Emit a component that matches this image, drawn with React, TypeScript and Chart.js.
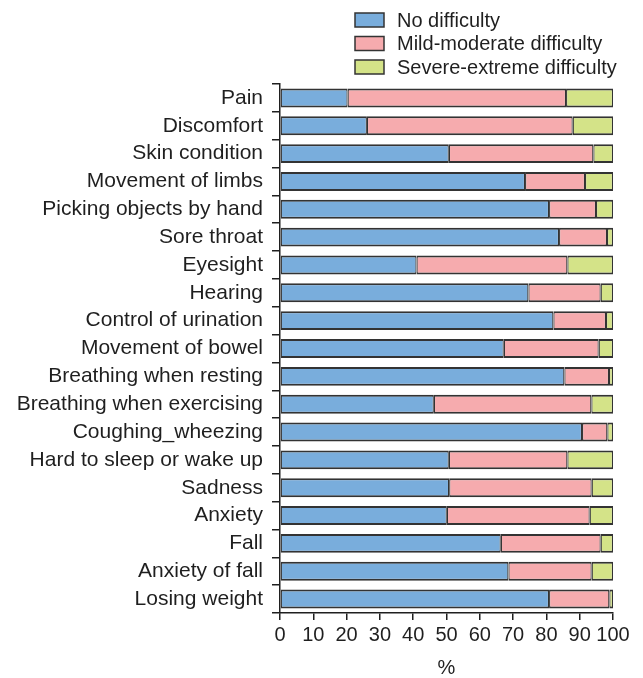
import React, { useEffect, useRef } from "react";
import { Chart, registerables } from "chart.js";

Chart.register(...registerables);

const categories = [
  "Pain",
  "Discomfort",
  "Skin condition",
  "Movement of limbs",
  "Picking objects by hand",
  "Sore throat",
  "Eyesight",
  "Hearing",
  "Control of urination",
  "Movement of bowel",
  "Breathing when resting",
  "Breathing when exercising",
  "Coughing_wheezing",
  "Hard to sleep or wake up",
  "Sadness",
  "Anxiety",
  "Fall",
  "Anxiety of fall",
  "Losing weight",
];

const noDifficulty = [20.3, 26.1, 50.7, 73.6, 80.8, 83.8, 41.0, 74.6, 82.1, 67.2, 85.4, 46.2, 90.7, 50.7, 50.8, 50.1, 66.3, 68.6, 80.8];
const mildModerate = [65.6, 61.8, 43.4, 18.0, 14.1, 14.4, 45.3, 21.7, 15.8, 28.5, 13.4, 47.3, 7.6, 35.6, 42.8, 42.9, 30.0, 25.0, 18.1];
const severeExtreme = [14.1, 12.1, 5.9, 8.4, 5.1, 1.8, 13.7, 3.7, 2.1, 4.3, 1.2, 6.5, 1.7, 13.7, 6.4, 7.0, 3.7, 6.4, 1.1];

const seriesNames = ["No difficulty", "Mild-moderate difficulty", "Severe-extreme difficulty"];
const seriesColors = ["#79ADDC", "#F6ABAE", "#D4E388"];
const xTicks = [0, 10, 20, 30, 40, 50, 60, 70, 80, 90, 100];

const FONT = "'Liberation Sans', Arial, sans-serif";
const INK = "#1f1f1f";
const EDGE = "#333333";

const legendPlugin = {
  id: "customLegend",
  afterDraw(chart: any) {
    const ctx = chart.ctx;
    ctx.save();
    const rowsY = [20, 43.5, 67];
    seriesNames.forEach((name, i) => {
      const cy = rowsY[i];
      ctx.fillStyle = seriesColors[i];
      ctx.fillRect(355, cy - 7, 29, 14);
      ctx.strokeStyle = EDGE;
      ctx.lineWidth = 1.5;
      ctx.strokeRect(355, cy - 7, 29, 14);
      ctx.fillStyle = INK;
      ctx.font = `20px ${FONT}`;
      ctx.textBaseline = "middle";
      ctx.textAlign = "left";
      ctx.fillText(name, 397, cy + 1);
    });
    ctx.restore();
  },
};

export default function App() {
  const ref = useRef<HTMLCanvasElement | null>(null);

  useEffect(() => {
    if (!ref.current) return;
    const values = [noDifficulty, mildModerate, severeExtreme];
    const chart = new Chart(ref.current, {
      type: "bar",
      data: {
        labels: categories,
        datasets: values.map((v, i) => ({
          label: seriesNames[i],
          data: v,
          backgroundColor: seriesColors[i],
          borderColor: EDGE,
          borderWidth: { top: 2, bottom: 2, left: 1.2, right: 1.2 },
          borderSkipped: false,
          barPercentage: 0.68,
          categoryPercentage: 1,
        })),
      },
      options: {
        indexAxis: "y",
        animation: false,
        responsive: false,
        maintainAspectRatio: false,
        layout: { padding: { top: 84, right: 30, left: 0, bottom: 0 } },
        plugins: {
          legend: { display: false },
          tooltip: { enabled: false },
        },
        scales: {
          x: {
            stacked: true,
            min: 0,
            max: 100,
            afterBuildTicks: (scale: any) => {
              scale.ticks = xTicks.map((v) => ({ value: v }));
            },
            afterFit: (scale: any) => {
              scale.height = 65;
            },
            grid: {
              drawOnChartArea: false,
              drawTicks: true,
              tickLength: 7,
              color: INK,
              lineWidth: 1.5,
            },
            border: { display: true, color: INK, width: 1.5 },
            ticks: {
              color: INK,
              font: { family: FONT, size: 20 },
              padding: 3,
              maxRotation: 0,
              autoSkip: false,
            },
            title: {
              display: true,
              text: "%",
              color: INK,
              font: { family: FONT, size: 20, lineHeight: 1 },
              padding: { top: 0, bottom: 0 },
            },
          },
          y: {
            stacked: true,
            afterFit: (scale: any) => {
              scale.width = 280;
            },
            grid: {
              drawOnChartArea: false,
              drawTicks: true,
              tickLength: 8,
              offset: true,
              color: INK,
              lineWidth: 1.5,
            },
            border: { display: true, color: INK, width: 1.5 },
            ticks: {
              color: INK,
              font: { family: FONT, size: 21 },
              padding: 9,
              autoSkip: false,
            },
          },
        },
      },
      plugins: [legendPlugin],
    });
    return () => chart.destroy();
  }, []);

  return (
    <div style={{ position: "fixed", left: 0, top: 0, width: 643, height: 678, background: "#fff" }}>
      <canvas ref={ref} width={643} height={678} style={{ display: "block" }} />
    </div>
  );
}
